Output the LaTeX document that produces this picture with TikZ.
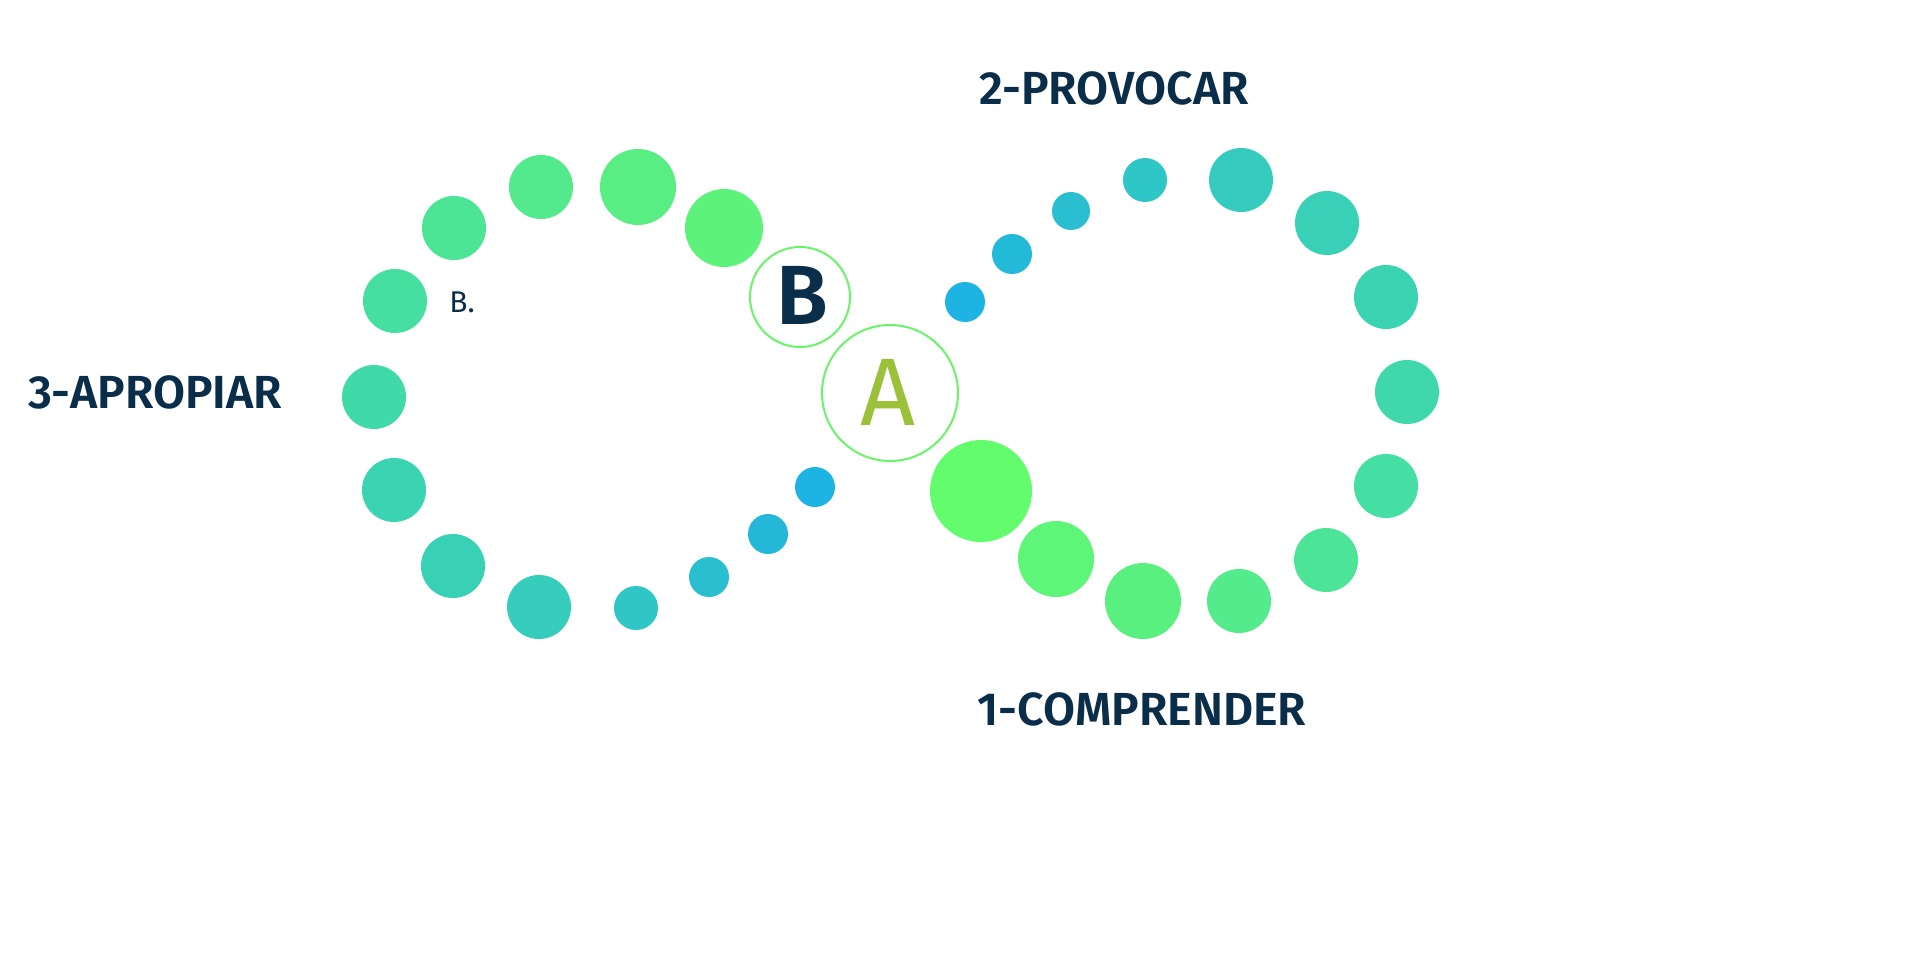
\documentclass[tikz,border=0pt]{standalone}
\usepackage{fontspec}
\setmainfont{Fira Sans}[BoldFont={Fira Sans SemiBold}]
\definecolor{navy}{HTML}{0A2E4A}
\definecolor{agreen}{HTML}{9BC13A}
\definecolor{ringgreen}{HTML}{6AF46A}
\definecolor{d1}{HTML}{5DF27A}
\definecolor{d2}{HTML}{59EE84}
\definecolor{d3}{HTML}{52EA8C}
\definecolor{d4}{HTML}{4CE495}
\definecolor{d5}{HTML}{45DFA0}
\definecolor{d6}{HTML}{40DAA8}
\definecolor{d7}{HTML}{3BD4B2}
\definecolor{d8}{HTML}{39D1B6}
\definecolor{d9}{HTML}{36CDBC}
\definecolor{d10}{HTML}{2FC6C4}
\definecolor{d11}{HTML}{2ABFCF}
\definecolor{d12}{HTML}{24B8D8}
\definecolor{d13}{HTML}{1DB3E2}
\definecolor{e1}{HTML}{62FC6C}
\definecolor{e2}{HTML}{5EF679}
\definecolor{e3}{HTML}{59F07F}
\definecolor{e4}{HTML}{53EB8B}
\definecolor{e5}{HTML}{4CE497}
\definecolor{e6}{HTML}{45DEA3}
\definecolor{e7}{HTML}{3FD8AA}
\definecolor{e8}{HTML}{3BD4B2}
\definecolor{e9}{HTML}{39D0B8}
\definecolor{e10}{HTML}{35CCBF}
\definecolor{e11}{HTML}{2FC6C7}
\definecolor{e12}{HTML}{2ABFD0}
\definecolor{e13}{HTML}{23B9D9}
\definecolor{e14}{HTML}{1DB3E2}
\tikzset{
  dot/.style={circle, draw=none, inner sep=0pt},
  ring/.style={circle, draw=ringgreen, line width=2pt, fill=white, inner sep=0pt},
  label/.style={anchor=base, inner sep=0pt, text=navy, font=\fontsize{46.4}{50}\selectfont\bfseries},
}
\begin{document}
\begin{tikzpicture}[x=1pt, y=-1pt]
\useasboundingbox (0,0) rectangle (1920,971);
\fill[white] (0,0) rectangle (1920,971);
% left loop
\foreach \n/\x/\y/\r/\c in {
  L1/724/228/39/d1, L2/638/187/38/d2, L3/541/187/32/d3, L4/454/228/32/d4,
  L5/395/301/32/d5, L6/374/397/32/d6, L7/394/490/32/d7, L8/453/566/32/d8,
  L9/539/607/32/d9, L10/636/608/22/d10, L11/709/577/20/d11, L12/768/534/20/d12,
  L13/815/487/20/d13}
  {\node[dot, fill=\c, minimum size={2*\r*1pt}] (\n) at (\x,\y) {};}
% right loop
\foreach \n/\x/\y/\r/\c in {
  R1/981/491/51/e1, R2/1056/559/38/e2, R3/1143/601/38/e3, R4/1239/601/32/e4,
  R5/1326/560/32/e5, R6/1386/486/32/e6, R7/1407/392/32/e7, R8/1386/297/32/e8,
  R9/1327/223/32/e9, R10/1241/180/32/e10, R11/1145/180/22/e11, R12/1071/211/19/e12,
  R13/1012/254/20/e13, R14/965/302/20/e14}
  {\node[dot, fill=\c, minimum size={2*\r*1pt}] (\n) at (\x,\y) {};}
% rings
\node[ring, minimum size=100pt] (ringB) at (800,297) {};
\node[ring, minimum size=136pt] (ringA) at (890,393) {};
\node[anchor=base, inner sep=0pt, text=navy, font=\fontsize{84}{90}\selectfont\bfseries] (letterB) at (802,324) {B};
\node[anchor=base, inner sep=0pt, text=agreen, font=\fontsize{96}{100}\selectfont] (letterA) at (888,425) {A};
% labels
\node[label] (provocar) at (1114,105) {2-PROVOCAR};
\node[label] (apropiar) at (155,408) {3-APROPIAR};
\node[label] (comprender) at (1142,725) {1-COMPRENDER};
\node[anchor=base, inner sep=0pt, text=navy, font=\fontsize{30}{32}\selectfont] (bdot) at (462,312) {B.};
\end{tikzpicture}
\end{document}
